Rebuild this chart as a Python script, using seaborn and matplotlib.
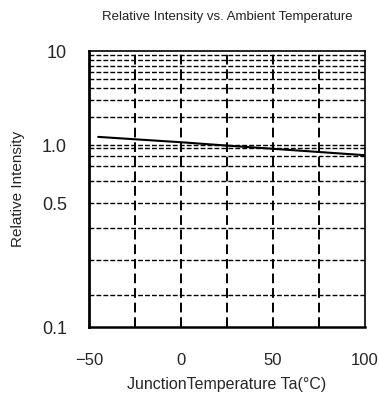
import numpy as np
import pandas as pd
import matplotlib
matplotlib.use("Agg")
import matplotlib.pyplot as plt
import seaborn as sns

# Relative luminous intensity against ambient temperature
temperature_c = [-45, -25, 0, 25, 50, 75, 100]
relative_intensity = [1.22, 1.15, 1.07, 0.98, 0.89, 0.85, 0.81]

x_ticks = [-50, 0, 50, 100]
x_tick_labels = ["\u221250", "0", "50", "100"]
y_ticks = [0.1, 0.5, 1.0, 10]
y_tick_labels = ["0.1", "0.5", "1.0", "10"]
x_grid = [-25, 0, 25, 50, 75]
y_grid = [0.2, 0.3, 0.4, 0.5, 0.6, 0.7, 0.8, 0.9, 1, 2, 3, 4, 5, 6, 7, 8, 9]

# Chart-paper style intensity axis: stretched lower decade, log upper decade
_LOW_V = np.array([0.1, 0.2, 0.3, 0.4, 0.5, 0.6, 0.7, 0.8, 0.9, 1.0])
_LOW_P = np.array([0, 32, 67, 99, 124, 146, 161, 171, 179, 182], float)
_DECADE = 94.0


def _fwd(v):
    v = np.clip(np.asarray(v, float), 1e-6, None)
    upper = _LOW_P[-1] + _DECADE * np.log10(np.maximum(v, 1.0))
    lower = np.interp(v, _LOW_V, _LOW_P)
    return np.where(v >= 1.0, upper, lower)


def _inv(p):
    p = np.asarray(p, float)
    upper = 10 ** ((p - _LOW_P[-1]) / _DECADE)
    lower = np.interp(p, _LOW_P, _LOW_V)
    return np.where(p >= _LOW_P[-1], upper, lower)


sns.set_style("white")
plt.rcParams["font.family"] = ["Liberation Sans", "DejaVu Sans"]

fig = plt.figure(figsize=(3.79, 3.94), dpi=100)
ax = fig.add_axes([89 / 379, 1 - 327 / 394, 276 / 379, 276 / 394])

df = pd.DataFrame({"t": temperature_c, "ri": relative_intensity})
sns.lineplot(data=df, x="t", y="ri", ax=ax, color="black", linewidth=1.5)

ax.set_yscale("function", functions=(_fwd, _inv))
ax.set_xlim(-50, 100)
ax.set_ylim(0.1, 10)

# Dashed grid
for xv in x_grid:
    ax.axvline(xv, color="black", linewidth=1.4, linestyle=(0, (5, 2.5)), zorder=1)
for yv in y_grid:
    ax.axhline(yv, color="black", linewidth=1.0, linestyle=(0, (3.5, 1.5)), zorder=1)

ax.set_xticks(x_ticks)
ax.set_xticklabels(x_tick_labels, fontsize=12)
ax.set_yticks(y_ticks)
ax.set_yticklabels(y_tick_labels, fontsize=13)
ax.yaxis.set_minor_locator(matplotlib.ticker.NullLocator())
ax.tick_params(axis="x", length=0, pad=19)
ax.tick_params(axis="y", length=0, pad=16)

for side, lw in (("left", 2.0), ("bottom", 1.8), ("top", 1.2), ("right", 1.2)):
    ax.spines[side].set_visible(True)
    ax.spines[side].set_color("black")
    ax.spines[side].set_linewidth(lw)

ax.set_xlabel("JunctionTemperature Ta(\u00b0C)", fontsize=11.5, labelpad=6)
ax.set_ylabel("Relative Intensity", fontsize=11, labelpad=12)
ax.set_title("Relative Intensity vs. Ambient Temperature", fontsize=9.5, pad=22,
             color="#222222")

fig.savefig("out.png", dpi=100)
